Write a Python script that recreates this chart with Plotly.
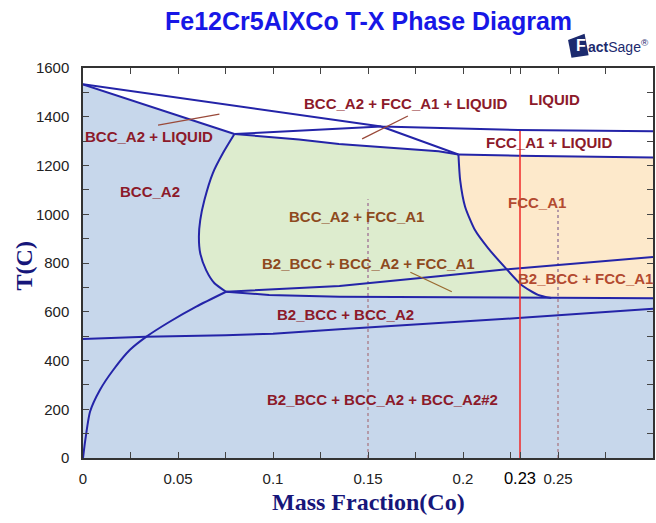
import plotly.graph_objects as go

# ---- phase boundaries: mass fraction Co vs temperature (deg C) ----
# liquidus (LIQUID upper limit)
liq_x = [0.0, 0.157, 0.229, 0.3]
liq_T = [1533, 1360, 1346, 1341]

# BCC_A2 solidus
bcc_sol_x = [0.0, 0.0797]
bcc_sol_T = [1533, 1329]

# BCC_A2 + FCC_A1 + LIQUID, lower-left edge
bfl_x = [0.0797, 0.157]
bfl_T = [1329, 1360]

# BCC_A2 + FCC_A1 upper limit
bf_top_x = [0.0797, 0.1137, 0.1347, 0.1871, 0.1976]
bf_top_T = [1329, 1307, 1288, 1258, 1245]

# steep edge of the three-phase region
steep_x = [0.157, 0.1976]
steep_T = [1360, 1245]

# FCC_A1 solidus
fcc_sol_x = [0.1976, 0.229, 0.3]
fcc_sol_T = [1245, 1240, 1233]

# FCC_A1 / BCC_A2 + FCC_A1 boundary
fcc_x = [0.1976, 0.1985, 0.2011, 0.2063, 0.2133, 0.2221, 0.2308, 0.2395, 0.2465]
fcc_T = [1245, 1140, 1031, 935, 860, 782, 710, 669, 656]

# BCC_A2 / BCC_A2 + FCC_A1 boundary
bcc_x = [0.0797, 0.0736, 0.0683, 0.0639, 0.0617, 0.0610, 0.0617, 0.0648, 0.0692, 0.0753]
bcc_T = [1329, 1250, 1168, 1058, 976, 908, 840, 771, 717, 682]

# lower limit of the FCC_A1-bearing fields
flat_x = [0.0753, 0.098, 0.135, 0.2465, 0.3]
flat_T = [682, 669, 662, 656, 655]

# B2_BCC + BCC_A2 + FCC_A1 upper limit
b2top_x = [0.0753, 0.098, 0.135, 0.187, 0.2229, 0.3]
b2top_T = [682, 690, 706, 746, 774, 825]

# BCC_A2#2 appearance
b2low_x = [0.0, 0.033, 0.075, 0.1, 0.135, 0.15, 0.229, 0.3]
b2low_T = [488, 497, 504, 510, 528, 535, 574, 612]

# B2_BCC solvus in BCC_A2
b2solv_x = [0.0, 0.0004, 0.00105, 0.0037, 0.0089, 0.0159, 0.0246, 0.0334, 0.0456, 0.0596, 0.0753]
b2solv_T = [0, 25, 65, 190, 279, 361, 443, 498, 559, 621, 682]

# reference compositions
dotted_x = [0.15, 0.25]
dotted_top_T = [1062, 1018]
sel_x = 0.23
sel_top_T = 1342

# field labels
label_text = ["BCC_A2 + FCC_A1 + LIQUID", "LIQUID", "BCC_A2 + LIQUID", "FCC_A1 + LIQUID",
              "BCC_A2", "BCC_A2 + FCC_A1", "FCC_A1", "B2_BCC + BCC_A2 + FCC_A1",
              "B2_BCC + FCC_A1", "B2_BCC + BCC_A2", "B2_BCC + BCC_A2 + BCC_A2#2"]
label_x = [0.170, 0.248, 0.0346, 0.245, 0.0351, 0.1439, 0.2387, 0.1504, 0.228, 0.1384, 0.1575]
label_T = [1456, 1469, 1317, 1294, 1093, 990, 1047, 796, 738, 587, 238]
label_field = ["w", "w", "b", "w", "b", "g", "p", "g", "p", "b", "b"]

# leader lines (from label to field)
leaders = [
    ([0.0395, 0.0718], [1366, 1411]),
    ([0.1469, 0.1710], [1309, 1403]),
    ([0.1723, 0.1941], [762, 682]),
]

X_TICKS = [0, 0.05, 0.1, 0.15, 0.2, 0.23, 0.25]
Y_TICKS = [0, 200, 400, 600, 800, 1000, 1200, 1400, 1600]

BLUE_FILL = "#c7d7eb"
GREEN_FILL = "#ddecce"
PEACH_FILL = "#fde9cb"
LINE = "#2424a8"
LABEL_COL = {"w": "#8c1a2a", "b": "#8c1a2a", "g": "#8e4a1e", "p": "#b34a30"}

fig = go.Figure()

def rev(a):
    return list(reversed(a))

# BCC-based fields (everything below the solidus lines)
blue_x = [0.0] + bcc_sol_x + bf_top_x[1:] + fcc_sol_x[1:] + [0.3, 0.0]
blue_T = [0] + bcc_sol_T + bf_top_T[1:] + fcc_sol_T[1:] + [0, 0]
fig.add_trace(go.Scatter(x=blue_x, y=blue_T, fill="toself", fillcolor=BLUE_FILL,
                         mode="none", hoverinfo="skip", showlegend=False))

# BCC_A2 + FCC_A1 field
cut = flat_x.index(0.2465)
green_x = bcc_x + flat_x[1:cut + 1] + rev(fcc_x)[1:] + rev(bf_top_x)[1:]
green_T = bcc_T + flat_T[1:cut + 1] + rev(fcc_T)[1:] + rev(bf_top_T)[1:]
fig.add_trace(go.Scatter(x=green_x, y=green_T, fill="toself", fillcolor=GREEN_FILL,
                         mode="none", hoverinfo="skip", showlegend=False))

# FCC_A1 field
peach_x = fcc_sol_x + rev(flat_x)[: len(flat_x) - cut] + rev(fcc_x)[1:]
peach_T = fcc_sol_T + rev(flat_T)[: len(flat_T) - cut] + rev(fcc_T)[1:]
fig.add_trace(go.Scatter(x=peach_x, y=peach_T, fill="toself", fillcolor=PEACH_FILL,
                         mode="none", hoverinfo="skip", showlegend=False))

# reference composition markers
for xv, tt in zip(dotted_x, dotted_top_T):
    fig.add_trace(go.Scatter(x=[xv, xv], y=[0, tt], mode="lines",
                             line=dict(color="#b49aa8", width=2, dash="dot"),
                             hoverinfo="skip", showlegend=False))

# phase boundaries
for bx, bt in [(liq_x, liq_T), (bcc_sol_x, bcc_sol_T), (bfl_x, bfl_T), (bf_top_x, bf_top_T),
               (steep_x, steep_T), (fcc_sol_x, fcc_sol_T), (flat_x, flat_T),
               (b2top_x, b2top_T), (b2low_x, b2low_T)]:
    fig.add_trace(go.Scatter(x=bx, y=bt, mode="lines", line=dict(color=LINE, width=2),
                             hoverinfo="skip", showlegend=False))
# curved boundaries
for bx, bt in [(fcc_x, fcc_T), (bcc_x, bcc_T), (b2solv_x, b2solv_T)]:
    fig.add_trace(go.Scatter(x=bx, y=bt, mode="lines",
                             line=dict(color=LINE, width=2, shape="spline", smoothing=0.6),
                             hoverinfo="skip", showlegend=False))

# selected composition
fig.add_trace(go.Scatter(x=[sel_x, sel_x], y=[0, sel_top_T], mode="lines",
                         line=dict(color="#f02828", width=1.5),
                         hoverinfo="skip", showlegend=False))

# leader lines
for i, (lx, lt) in enumerate(leaders):
    fig.add_trace(go.Scatter(x=lx, y=lt, mode="lines",
                             line=dict(color="#9a4a3a" if i < 2 else "#9a6a30", width=1.3),
                             hoverinfo="skip", showlegend=False))

annotations = []
for txt, lx, lt, fld in zip(label_text, label_x, label_T, label_field):
    annotations.append(dict(x=lx, y=lt, xref="x", yref="y", text=txt, showarrow=False,
                            xanchor="left" if txt == "B2_BCC + FCC_A1" else "center",
                            font=dict(family="Liberation Sans, Arial", size=15,
                                      color=LABEL_COL[fld], weight="bold")))

# title
annotations.append(dict(x=0.5014, y=1.12, xref="paper", yref="paper",
                        text="<b>Fe12Cr5AlXCo T-X Phase Diagram</b>", showarrow=False,
                        xanchor="center", yanchor="middle",
                        font=dict(family="Liberation Sans, Arial", size=25, color="#1717e6")))
# axis titles
annotations.append(dict(x=0.5, y=-0.113, xref="paper", yref="paper",
                        text="<b>Mass Fraction(Co)</b>", showarrow=False,
                        xanchor="center", yanchor="middle",
                        font=dict(family="Liberation Serif, Times New Roman", size=24, color="#16167a")))
annotations.append(dict(x=-0.103, y=0.492, xref="paper", yref="paper",
                        text="<b>T(C)</b>", showarrow=False, textangle=-90,
                        xanchor="center", yanchor="middle",
                        font=dict(family="Liberation Serif, Times New Roman", size=24, color="#16167a")))
# logo
annotations.append(dict(x=0.8745, y=1.058, xref="paper", yref="paper", text="<b>F</b>",
                        showarrow=False, xanchor="center", yanchor="middle",
                        font=dict(family="Liberation Sans", size=16, color="white")))
annotations.append(dict(x=0.882, y=1.056, xref="paper", yref="paper",
                        text="<b>act</b>Sage<sup>®</sup>", showarrow=False,
                        xanchor="left", yanchor="middle",
                        font=dict(family="Liberation Sans", size=14, color="#1c2a6e")))

shapes = [dict(type="path", xref="paper", yref="paper",
               path="M 0.851 1.072 L 0.880 1.088 L 0.887 1.033 L 0.857 1.026 Z",
               fillcolor="#1c2a6e", line=dict(width=0))]

tick_text = []
for v in X_TICKS:
    if v == 0.23:
        tick_text.append('<span style="font-size:16.5px;color:#000">0.23</span>')
    else:
        tick_text.append(f"{v:g}")

fig.update_layout(
    width=656, height=523,
    margin=dict(l=83, r=1, t=68, b=65),
    paper_bgcolor="white", plot_bgcolor="white",
    annotations=annotations, shapes=shapes,
    xaxis=dict(range=[0, 0.3], tickvals=X_TICKS, ticktext=tick_text,
               ticks="inside", ticklen=6, tickcolor="#444", showline=True, linecolor="#333",
               linewidth=1.5, mirror="allticks", showgrid=False, zeroline=False,
               ticklabelstandoff=6,
               minor=dict(dtick=0.025, ticks="inside", ticklen=6, tickcolor="#444"),
               tickfont=dict(family="Liberation Sans, Arial", size=15, color="#222")),
    yaxis=dict(range=[0, 1600], tickvals=Y_TICKS,
               ticks="inside", ticklen=6, tickcolor="#444", showline=True, linecolor="#333",
               linewidth=1.5, mirror="allticks", showgrid=False, zeroline=False,
               ticklabelstandoff=9,
               minor=dict(dtick=100, ticks="inside", ticklen=6, tickcolor="#444"),
               tickfont=dict(family="Liberation Sans, Arial", size=15, color="#222")),
)

fig.write_html("out.html")
